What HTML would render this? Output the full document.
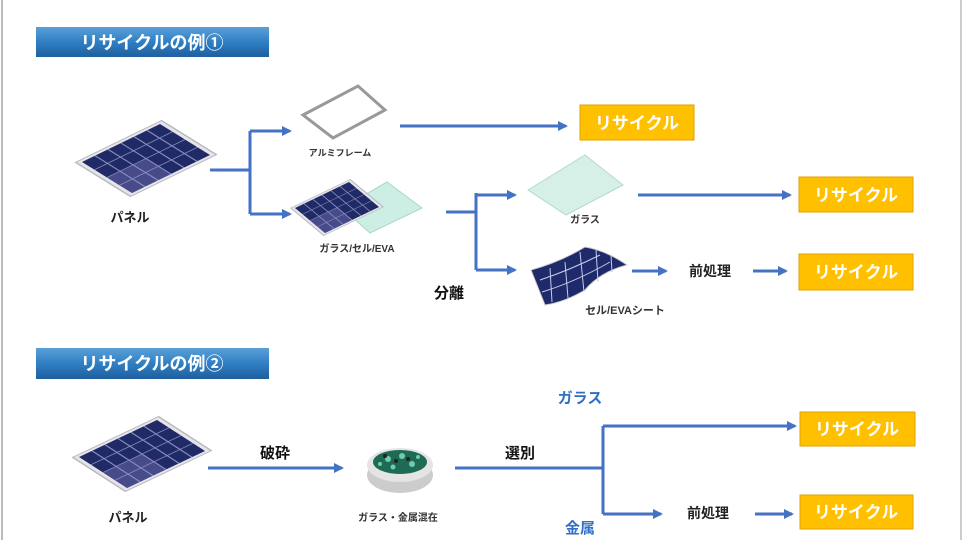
<!DOCTYPE html>
<html><head><meta charset="utf-8"><style>
body{margin:0;width:964px;height:540px;background:#fff;overflow:hidden;font-family:"Liberation Sans","Noto Sans CJK JP",sans-serif;}
</style></head><body>
<svg width="964" height="540" viewBox="0 0 964 540" xmlns="http://www.w3.org/2000/svg" font-family="Liberation Sans, Noto Sans CJK JP, sans-serif">
<defs>
<linearGradient id="tb" x1="0" y1="0" x2="0" y2="1">
<stop offset="0" stop-color="#5aa0d8"/><stop offset="0.5" stop-color="#2f7fc4"/><stop offset="1" stop-color="#1f5f9e"/></linearGradient>
<marker id="ah" markerWidth="10" markerHeight="10" refX="8" refY="5" orient="auto" markerUnits="userSpaceOnUse"><path d="M0,0 L10,5 L0,10 z" fill="#4472C4"/></marker>
<g id="panel">
<polygon points="-5,-5 105,-5 105,105 -5,105" fill="#e6e6ea" stroke="#b8b8c0" stroke-width="2"/>
<rect x="0" y="0" width="100" height="100" fill="#1f2a66"/>
<rect x="0" y="50" width="50" height="50" fill="#5a5a9a" opacity="0.7"/>
<g stroke="#8a90c0" stroke-width="1.5">
<line x1="16.7" y1="0" x2="16.7" y2="100"/><line x1="33.3" y1="0" x2="33.3" y2="100"/><line x1="50" y1="0" x2="50" y2="100"/><line x1="66.7" y1="0" x2="66.7" y2="100"/><line x1="83.3" y1="0" x2="83.3" y2="100"/>
<line x1="0" y1="25" x2="100" y2="25"/><line x1="0" y1="50" x2="100" y2="50"/><line x1="0" y1="75" x2="100" y2="75"/>
</g></g>
</defs>
<line x1="2" y1="0" x2="2" y2="540" stroke="#bbb" stroke-width="2"/>
<line x1="961" y1="0" x2="961" y2="540" stroke="#ccc" stroke-width="2"/>

<rect x="36" y="27" width="233" height="30" fill="url(#tb)"/>
<text x="152" y="49" text-anchor="middle" font-size="18" font-weight="bold" fill="#fff">リサイクルの例①</text>
<rect x="36" y="348" width="233" height="31" fill="url(#tb)"/>
<text x="152" y="370" text-anchor="middle" font-size="18" font-weight="bold" fill="#fff">リサイクルの例②</text>

<g transform="matrix(0.78 -0.38 0.50 0.31 82 162)"><use href="#panel"/></g>
<text x="130" y="222" text-anchor="middle" font-size="13" font-weight="bold" fill="#222">パネル</text>

<g stroke="#4472C4" stroke-width="3" fill="none">
<path d="M210,170 H250 V131"/><line x1="250" y1="131" x2="290" y2="131" marker-end="url(#ah)"/>
<path d="M250,170 V214"/><line x1="250" y1="214" x2="290" y2="214" marker-end="url(#ah)"/>
<line x1="400" y1="126" x2="566" y2="126" marker-end="url(#ah)"/>
<path d="M446,212 H476 V193"/><line x1="476" y1="195" x2="515" y2="195" marker-end="url(#ah)"/>
<path d="M476,212 V270"/><line x1="476" y1="270" x2="515" y2="270" marker-end="url(#ah)"/>
<line x1="638" y1="195" x2="790" y2="195" marker-end="url(#ah)"/>
<line x1="632" y1="271" x2="666" y2="271" marker-end="url(#ah)"/>
<line x1="753" y1="271" x2="786" y2="271" marker-end="url(#ah)"/>
<line x1="208" y1="468" x2="342" y2="468" marker-end="url(#ah)"/>
<path d="M455,468 H603 V426"/><line x1="603" y1="426" x2="795" y2="426" marker-end="url(#ah)"/>
<path d="M603,468 V514"/><line x1="603" y1="514" x2="661" y2="514" marker-end="url(#ah)"/>
<line x1="755" y1="514" x2="792" y2="514" marker-end="url(#ah)"/>
</g>

<polygon points="303,115 358,86 385,110 333,138" fill="none" stroke="#999" stroke-width="3"/>
<text x="340" y="156" text-anchor="middle" font-size="9" font-weight="bold" fill="#333">アルミフレーム</text>

<polygon points="342,208 387,182 422,208 370,233" fill="#cdeee4" stroke="#a6d8c8"/>
<g transform="matrix(0.54 -0.26 0.30 0.25 295 208)"><use href="#panel"/></g>
<text x="357" y="252" text-anchor="middle" font-size="10" font-weight="bold" fill="#333">ガラス/セル/EVA</text>

<polygon points="528,190 585,155 623,185 566,215" fill="#d6f0e8" stroke="#b0dcc8"/>
<text x="585" y="223" text-anchor="middle" font-size="10" font-weight="bold" fill="#333">ガラス</text>

<path d="M531,270 Q560,262 585,247 Q605,250 627,265 Q600,272 585,290 Q565,302 545,305 Z" fill="#1e2a6a" stroke="#ccc"/>
<g stroke="#c8ccee" stroke-width="1" fill="none">
<path d="M540,280 Q570,270 600,255"/><path d="M542,292 Q575,282 610,262"/>
<path d="M550,268 L552,302"/><path d="M565,262 L568,298"/><path d="M580,252 L584,292"/><path d="M596,249 L598,282"/><path d="M611,255 L612,272"/>
</g>
<text x="625" y="314" text-anchor="middle" font-size="11" font-weight="bold" fill="#333">セル/EVAシート</text>

<text x="449" y="298" text-anchor="middle" font-size="15" font-weight="bold" fill="#111">分離</text>
<text x="710" y="276" text-anchor="middle" font-size="14" font-weight="bold" fill="#222">前処理</text>

<g font-size="17" font-weight="bold" fill="#fff" text-anchor="middle">
<rect x="580" y="105" width="114" height="35" fill="#FFC000" stroke="#e0a200"/><text x="637" y="129">リサイクル</text>
<rect x="799" y="177" width="114" height="35" fill="#FFC000" stroke="#e0a200"/><text x="856" y="201">リサイクル</text>
<rect x="799" y="254" width="114" height="36" fill="#FFC000" stroke="#e0a200"/><text x="856" y="278">リサイクル</text>
<rect x="800" y="412" width="115" height="34" fill="#FFC000" stroke="#e0a200"/><text x="857" y="435">リサイクル</text>
<rect x="800" y="495" width="113" height="34" fill="#FFC000" stroke="#e0a200"/><text x="856" y="518">リサイクル</text>
</g>

<g transform="matrix(0.78 -0.37 0.48 0.31 79 457)"><use href="#panel"/></g>
<text x="128" y="522" text-anchor="middle" font-size="13" font-weight="bold" fill="#222">パネル</text>
<text x="275" y="458" text-anchor="middle" font-size="15" font-weight="bold" fill="#111">破砕</text>
<ellipse cx="400" cy="475" rx="33" ry="18" fill="#ccc"/>
<ellipse cx="400" cy="465" rx="33" ry="17" fill="#e4e4e4"/>
<ellipse cx="400" cy="462" rx="27" ry="12" fill="#1f6a55"/>
<g fill="#6fcab0"><circle cx="388" cy="459" r="3"/><circle cx="402" cy="456" r="3"/><circle cx="412" cy="464" r="3"/><circle cx="393" cy="467" r="2.5"/><circle cx="380" cy="464" r="2"/><circle cx="418" cy="457" r="2"/></g>
<g fill="#222"><circle cx="396" cy="461" r="2"/><circle cx="408" cy="459" r="2"/><circle cx="385" cy="456" r="2"/></g>
<text x="398" y="521" text-anchor="middle" font-size="10" font-weight="bold" fill="#333">ガラス・金属混在</text>
<text x="520" y="458" text-anchor="middle" font-size="15" font-weight="bold" fill="#111">選別</text>
<text x="580" y="403" text-anchor="middle" font-size="15" font-weight="bold" fill="#2f6fc4">ガラス</text>
<text x="580" y="533" text-anchor="middle" font-size="15" font-weight="bold" fill="#2f6fc4">金属</text>
<text x="708" y="518" text-anchor="middle" font-size="14" font-weight="bold" fill="#222">前処理</text>
</svg>
</body></html>
